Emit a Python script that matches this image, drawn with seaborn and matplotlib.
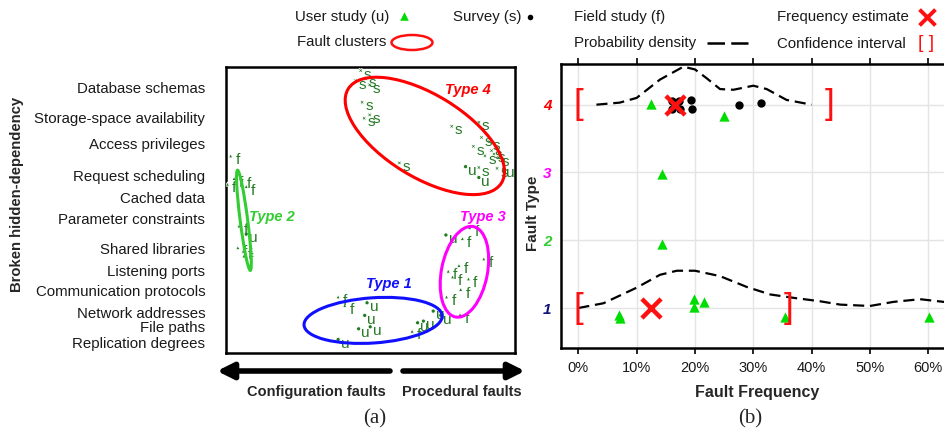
import numpy as np
import pandas as pd
import matplotlib
matplotlib.use("Agg")
import matplotlib.pyplot as plt
import seaborn as sns
from matplotlib.patches import Ellipse
from matplotlib.transforms import ScaledTranslation

sns.set_theme(style="white")
plt.rcParams["font.family"] = ["Liberation Sans", "DejaVu Sans"]

# ---------------------------------------------------------------------------
# DATA - panel (a): fault clusters
# ---------------------------------------------------------------------------
dependencies = [
    "Database schemas", "Storage-space availability", "Access privileges",
    "Request scheduling", "Cached data", "Parameter constraints",
    "Shared libraries", "Listening ports", "Communication protocols",
    "Network addresses", "File paths", "Replication degrees",
]
dependency_pos = [93.0, 82.2, 73.4, 62.2, 54.5, 47.2, 36.7, 29.0, 22.0, 14.0, 9.1, 3.8]

u_x = [85.3, 89.9, 98.5, 9.4, 78.5, 51.2, 50.4, 48.3, 52.3, 41.2, 68.7, 70.7, 74.1, 76.7]
u_y = [63.7, 59.9, 62.9, 40.1, 39.8, 16.1, 11.7, 7.0, 7.7, 3.3, 9.1, 9.7, 13.2, 11.7]
s_x = [49.0, 47.3, 50.7, 52.1, 49.5, 50.2, 52.1, 80.5, 62.4, 89.9, 90.8, 88.0, 93.6,
       92.0, 94.3, 96.6, 89.9, 96.2, 95.1]
s_y = [97.3, 93.8, 94.4, 92.3, 86.2, 80.6, 81.8, 77.8, 65.0, 79.2, 73.9, 70.8, 72.4,
       67.5, 69.3, 66.9, 63.4, 63.1, 68.1]
f_x = [4.0, 2.9, 5.2, 8.0, 9.4, 6.9, 6.5, 8.4, 8.6, 84.2, 86.7, 91.6, 79.3, 80.8,
       83.0, 86.3, 83.6, 78.7, 83.4, 41.2, 43.5, 66.8]
f_y = [67.5, 57.6, 59.6, 59.1, 56.8, 43.0, 35.4, 34.2, 32.5, 38.6, 42.4, 31.5, 27.2,
       25.2, 29.2, 24.5, 20.8, 18.2, 12.0, 18.2, 15.2, 6.2]

cluster_names = ["Type 1", "Type 2", "Type 3", "Type 4"]
cluster_cx = [50.9, 6.2, 82.5, 68.8]
cluster_cy = [11.4, 46.4, 28.4, 75.9]
cluster_w = [47.9, 35.3, 32.2, 62.4]
cluster_h = [15.8, 2.6, 15.9, 28.8]
cluster_angle = [4.0, 97.2, 79.0, -31.9]
cluster_label_x = [56.4, 16.0, 88.8, 83.6]
cluster_label_y = [24.1, 47.7, 47.4, 92.1]

# ---------------------------------------------------------------------------
# DATA - panel (b): fault frequency per type
# ---------------------------------------------------------------------------
fault_types = [1, 2, 3, 4]
freq_ticks = [0, 10, 20, 30, 40, 50, 60]
freq_labels = ["0%", "10%", "20%", "30%", "40%", "50%", "60%"]

user_freq = [12.4, 25.0, 14.3, 14.3, 7.0, 7.1, 19.8, 19.9, 21.5, 35.4, 60.2]
user_type = [4.01, 3.84, 2.98, 1.94, 0.90, 0.85, 1.13, 1.01, 1.09, 0.86, 0.86]
survey_freq = [16.0, 16.0, 17.3, 17.4, 19.4, 19.5, 27.5, 31.3]
survey_type = [4.05, 3.93, 4.05, 3.93, 4.07, 3.93, 4.00, 4.02]

estimate_freq = [12.5, 16.5]
estimate_type = [1, 4]
ci_low = [0.0, 0.0]
ci_high = [36.0, 43.1]

dens1_x = [0, 4.3, 10.0, 14.0, 16.9, 20.0, 24.3, 28.9, 32.9, 36.9, 41.4, 44.9, 50.0, 54.0, 58.6, 63.7]
dens1_y = [1.0, 1.07, 1.30, 1.49, 1.55, 1.55, 1.47, 1.31, 1.20, 1.15, 1.10, 1.05, 1.03, 1.09, 1.13, 1.08]
dens4_x = [3.1, 7.1, 10.0, 14.0, 18.0, 20.0, 22.0, 24.3, 26.6, 30.0, 32.3, 35.7, 40.0]
dens4_y = [4.0, 4.03, 4.10, 4.37, 4.56, 4.52, 4.39, 4.23, 4.22, 4.28, 4.23, 4.07, 4.0]

GREEN_DARK = "#237a23"
LIME = "#00dd00"
RED = "#ff1010"
type_colors = ["#1010ff", "#33cc33", "#ff00ff", "#ff0000"]
tick_colors = ["#12127a", "#33cc33", "#ff00ff", "#ff0000"]

# ---------------------------------------------------------------------------
# FIGURE
# ---------------------------------------------------------------------------
fig = plt.figure(figsize=(9.45, 4.4), dpi=100)
W, H = 945, 440

def px_axes(left, top, right, bottom):
    return fig.add_axes([left / W, 1 - bottom / H, (right - left) / W, (bottom - top) / H])

# ---- panel (a) ------------------------------------------------------------
ax1 = px_axes(226, 67, 515, 353)
ax1.set_xlim(0, 100)
ax1.set_ylim(0, 100)

letters = pd.DataFrame({
    "x": u_x + s_x + f_x,
    "y": u_y + s_y + f_y,
    "src": ["u"] * len(u_x) + ["s"] * len(s_x) + ["f"] * len(f_x),
})
sns.scatterplot(data=letters, x="x", y="y", style="src",
                markers={"u": "o", "s": "X", "f": "^"}, color=GREEN_DARK,
                s=9, linewidth=0.6, legend=False, ax=ax1, zorder=3)
ax1.collections[-1].set_offset_transform(
    ax1.transData + ScaledTranslation(-5 / 72, 3 / 72, fig.dpi_scale_trans))
for _, r in letters.iterrows():
    ax1.text(r["x"], r["y"], r["src"], color=GREEN_DARK, fontsize=11,
             ha="center", va="center", zorder=3)

for i, name in enumerate(cluster_names):
    ax1.add_patch(Ellipse((cluster_cx[i], cluster_cy[i]), cluster_w[i], cluster_h[i],
                          angle=cluster_angle[i], fill=False, lw=2.2,
                          edgecolor=type_colors[i], zorder=4))
    ax1.text(cluster_label_x[i], cluster_label_y[i], name, color=type_colors[i],
             fontsize=10.5, fontweight="bold", fontstyle="italic",
             ha="center", va="center", zorder=5)

ax1.set_xticks([])
ax1.set_yticks(dependency_pos)
ax1.set_yticklabels(dependencies, fontsize=10.8, color="#1a1a1a")
ax1.tick_params(axis="y", length=0, pad=15)
ax1.set_xlabel("")
ax1.set_ylabel("")
for sp in ax1.spines.values():
    sp.set_color("black")
    sp.set_linewidth(1.8)

# ---- panel (b) ------------------------------------------------------------
ax2 = px_axes(561, 64, 950, 348)
ax2.set_xlim(-2.97, 63.72)
ax2.set_ylim(0.41, 4.6)
ax2.grid(True, color="#e4e4e4", lw=1.0)
ax2.set_axisbelow(True)

dash = (0, (5, 2.6))
sns.lineplot(x=dens1_x, y=dens1_y, color="black", lw=1.6, linestyle=dash,
             sort=False, estimator=None, ax=ax2)
sns.lineplot(x=dens4_x, y=dens4_y, color="black", lw=1.6, linestyle=dash,
             sort=False, estimator=None, ax=ax2)
sns.scatterplot(x=survey_freq, y=survey_type, color="black", marker="o", s=36,
                edgecolor="black", linewidth=0, ax=ax2, zorder=4)
sns.scatterplot(x=user_freq, y=user_type, color=LIME, marker="^", s=55,
                linewidth=0, ax=ax2, zorder=4)
sns.scatterplot(x=estimate_freq, y=estimate_type, color=RED, marker="x", s=190,
                linewidth=3.2, ax=ax2, zorder=5)
for lo, hi, t in zip(ci_low, ci_high, estimate_type):
    ax2.text(lo, t, "[", color=RED, fontsize=25, ha="center", va="center", zorder=5)
    ax2.text(hi, t, "]", color=RED, fontsize=25, ha="center", va="center", zorder=5)

ax2.set_xticks(freq_ticks)
ax2.set_xticklabels(freq_labels, fontsize=10.5, color="#1a1a1a")
ax2.set_yticks(fault_types)
ax2.set_yticklabels([str(t) for t in fault_types], fontsize=11,
                    fontweight="bold", fontstyle="italic")
for lab, c in zip(ax2.get_yticklabels(), tick_colors):
    lab.set_color(c)
ax2.tick_params(axis="x", bottom=True, top=True, direction="out", length=4,
                width=1.2, color="black", pad=5)
ax2.tick_params(axis="y", length=0, pad=7)
ax2.set_xlabel("Fault Frequency", fontsize=11.5, fontweight="bold", va="center")
ax2.set_ylabel("Fault Type", fontsize=11, fontweight="bold")
ax2.xaxis.set_label_coords(0.504, -0.158)
ax2.yaxis.set_label_coords(-0.055, 0.475)
for sp in ax2.spines.values():
    sp.set_color("black")
    sp.set_linewidth(1.8)

# ---- overlay: legend, arrows, captions ----------------------------------
ov = fig.add_axes([0, 0, 1, 1])
ov.set_xlim(0, W)
ov.set_ylim(H, 0)
ov.axis("off")

leg_kw = dict(fontsize=10.8, ha="left", va="center", color="#1a1a1a")
ov.text(295, 17, "User study (u)", **leg_kw)
ov.text(453, 17, "Survey (s)", **leg_kw)
ov.text(574, 17, "Field study (f)", **leg_kw)
ov.text(777, 17, "Frequency estimate", **leg_kw)
ov.text(297, 42, "Fault clusters", **leg_kw)
ov.text(574, 43, "Probability density", **leg_kw)
ov.text(777, 44, "Confidence interval", **leg_kw)
ov.scatter([404], [16], marker="^", s=38, color=LIME, linewidths=0)
ov.scatter([530], [17], marker="o", s=16, color="black", linewidths=0)
ov.scatter([927], [17], marker="x", s=130, color=RED, linewidths=2.8)
ov.add_patch(Ellipse((412, 42.5), 41, 15, fill=False, lw=1.8, edgecolor=RED))
ov.plot([707, 748], [43, 43], color="black", lw=1.8, linestyle=(0, (7, 2.5)))
ov.text(926, 43, "[ ]", color=RED, fontsize=14, ha="center", va="center")

arrow_kw = dict(arrowstyle="-|>,head_length=0.8,head_width=0.4", lw=4, color="black",
                shrinkA=0, shrinkB=0)
ov.annotate("", xy=(217, 371), xytext=(390, 371), arrowprops=arrow_kw)
ov.annotate("", xy=(525, 371), xytext=(403, 371), arrowprops=arrow_kw)
ov.text(316, 392, "Configuration faults", fontsize=10.5, fontweight="bold",
        ha="center", va="center")
ov.text(462, 392, "Procedural faults", fontsize=10.5, fontweight="bold",
        ha="center", va="center")
fig.text(17 / W, 1 - 194 / H, "Broken hidden-dependency", rotation=90, fontsize=10.7,
         fontweight="bold", ha="center", va="center")
ov.text(375, 419, "(a)", fontsize=15, family="Liberation Serif", ha="center", va="center")
ov.text(750, 419, "(b)", fontsize=15, family="Liberation Serif", ha="center", va="center")

fig.savefig("out.png", dpi=100)
